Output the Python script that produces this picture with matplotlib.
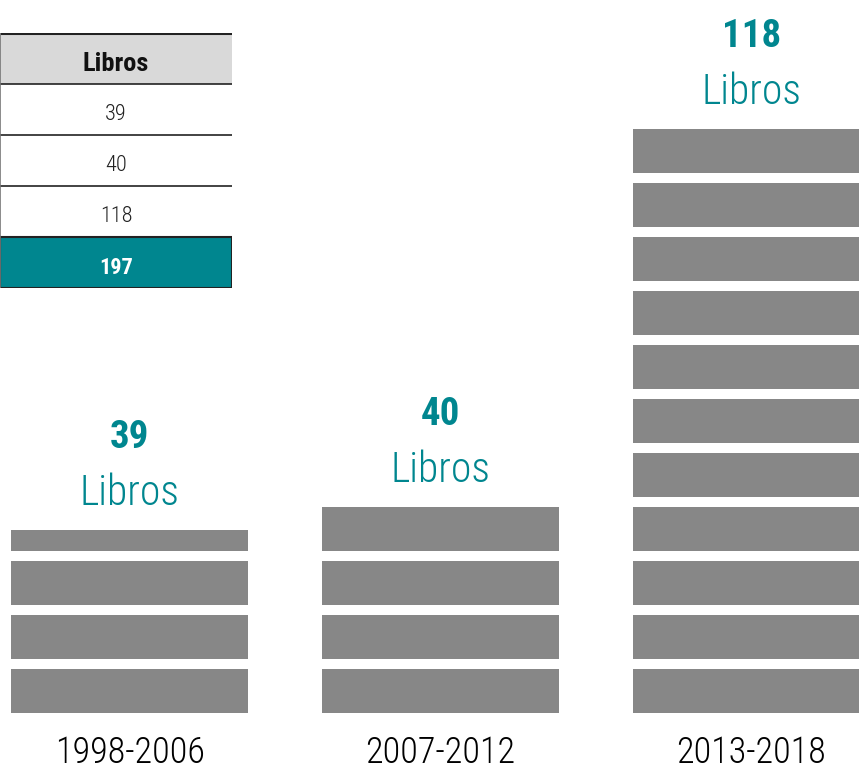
import numpy as np
import matplotlib
matplotlib.use("Agg")
import matplotlib.pyplot as plt
from matplotlib import font_manager as fm
from matplotlib.patches import Rectangle

# ---- data ----
periodos = ['1998-2006', '2007-2012', '2013-2018']
libros = [39, 40, 118]
bloques = [3.39, 4.0, 11.0]       # height of each brick stack (brick units, as drawn)
total = 197
encabezado = 'Libros'

# ---- style ----
TEAL = '#00868F'
GRIS = '#878787'
names = {f.name for f in fm.fontManager.ttflist}
FONT = 'DejaVu Sans'
for cand in ['Roboto Condensed', 'Liberation Sans Narrow', 'DejaVu Sans Condensed',
             'Open Sans Condensed', 'Noto Sans', 'Lato']:
    if cand in names:
        FONT = cand
        break
plt.rcParams['font.family'] = [FONT, 'DejaVu Sans']

W, H = 859, 773
fig = plt.figure(figsize=(W / 100, H / 100), dpi=100)

# ---- brick stacks ----
base_px, unit_px, step_px = 713, 54, 311
ax = fig.add_axes([0, (H - base_px) / H, 1, base_px / H])
ax.set_ylim(0, base_px / unit_px)
ax.set_xlim(-129.5 / step_px, (W - 129.5) / step_px)
ax.axis('off')
brick = 44 / 54
for i, b in enumerate(bloques):
    n = int(np.ceil(b))
    bottoms = np.arange(n, dtype=float)
    heights = np.minimum(brick, b - bottoms)
    ax.bar(np.full(n, i), heights, bottom=bottoms, width=237 / step_px,
           color=GRIS, linewidth=0)
    top = bottoms[-1] + heights[-1]
    ax.annotate(str(libros[i]), xy=(i, top), xytext=(0, 82), textcoords='offset pixels',
                ha='center', va='baseline', fontsize=28, fontweight='bold', color=TEAL)
    ax.annotate('Libros', xy=(i, top), xytext=(0, 25), textcoords='offset pixels',
                ha='center', va='baseline', fontsize=30, fontweight='light', color=TEAL)
    ax.annotate(periodos[i], xy=(i, 0), xytext=(0, -58), textcoords='offset pixels',
                ha='center', va='bottom', fontsize=26, fontweight='light', color='#000000',
                annotation_clip=False)

# ---- table ----
filas = [encabezado] + [str(v) for v in libros] + [str(total)]
tx = fig.add_axes([0, (H - 288) / H, 232 / W, (288 - 33) / H])
tx.set_xlim(0, 1)
tx.set_ylim(len(filas), 0)
tx.axis('off')
for r, txt in enumerate(filas):
    if r == 0:
        fc, col, wt, fs = '#D9D9D9', '#111111', 'heavy', 19
    elif r == len(filas) - 1:
        fc, col, wt, fs = TEAL, 'white', 'heavy', 16
    else:
        fc, col, wt, fs = 'white', '#222222', 'light', 16
    tx.add_patch(Rectangle((0, r), 1, 1, facecolor=fc, edgecolor='none'))
    tx.text(0.5, r + 0.55, txt, ha='center', va='center_baseline', fontsize=fs,
            fontweight=wt, color=col)
    tx.plot([0, 1], [r, r], color='#222222', lw=2.2 if r == 0 else 1.2,
            solid_capstyle='butt')
tx.add_patch(Rectangle((0, len(filas) - 1), 1, 1, facecolor='none',
                       edgecolor='#222222', lw=1.5))
tx.plot([0, 0], [0, len(filas)], color='#777777', lw=1.2)

fig.savefig('out.png', dpi=100)
